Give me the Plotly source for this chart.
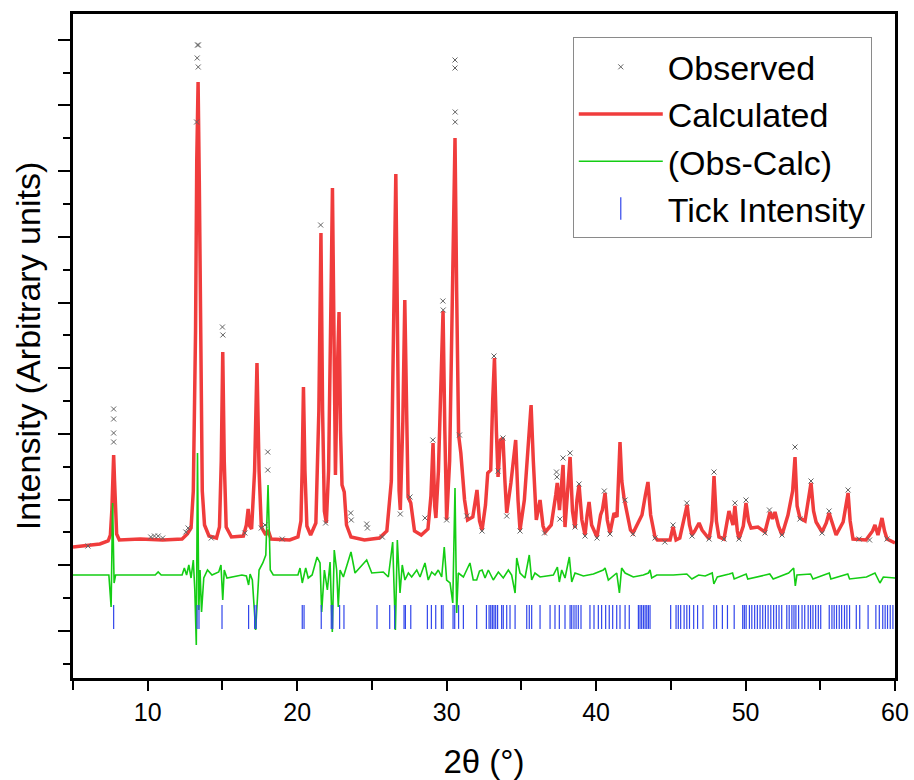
import plotly.graph_objects as go

# ---------------- data (2theta in degrees, intensity in arbitrary units) ----------------
calc_x = [5.0, 6.8, 7.35, 7.5, 7.6, 7.66, 7.72, 7.78, 7.84, 7.92, 8.1, 9.5, 11.0, 12.3, 12.65, 12.9, 13.05, 13.2, 13.28, 13.37, 13.45, 13.53, 13.65, 13.8, 14.1,
          14.6, 14.8, 14.92, 15.02, 15.12, 15.25, 15.6, 16.4, 16.6, 16.72, 16.82, 16.95, 17.15, 17.31, 17.45, 17.6, 17.9, 18.05, 18.25, 19.5,
          20.05, 20.25, 20.33, 20.42, 20.52, 20.65, 20.9, 21.25, 21.45, 21.59, 21.7, 21.82, 21.95, 22.1, 22.26, 22.36, 22.46, 22.56, 22.67, 22.8,
          22.9, 23.0, 23.15, 23.3, 23.6, 24.5, 25.5, 26.0, 26.3, 26.48, 26.6, 26.7, 26.82, 26.9, 27.07, 27.2, 27.32, 27.42, 27.6, 27.85,
          28.3, 28.75, 28.95, 29.09, 29.2, 29.28, 29.45, 29.62, 29.76, 29.88, 30.0, 30.2, 30.43, 30.56, 30.67, 30.8, 30.95, 31.05, 31.2, 31.4,
          31.75, 32.03, 32.2, 32.37, 32.6, 32.75, 32.95, 33.08, 33.2, 33.33, 33.44, 33.6, 33.77, 33.9, 34.02, 34.3, 34.62, 34.78, 34.91, 35.2,
          35.45, 35.65, 35.8, 36.0, 36.25, 36.45, 36.6, 37.0, 37.3, 37.4, 37.55, 37.79, 37.92, 38.1, 38.26, 38.42, 38.59, 38.72, 38.86, 39.05,
          39.26, 39.4, 39.53, 39.7, 40.06, 40.3, 40.42, 40.6, 40.75, 40.93, 41.1, 41.2, 41.4, 41.5, 41.6, 41.72, 41.87, 42.07, 42.3, 42.47,
          42.8, 43.07, 43.3, 43.47, 43.65, 43.94, 44.1, 44.95, 45.15, 45.35, 45.6, 45.9, 46.09, 46.25, 46.42, 46.6, 46.89, 47.09, 47.56, 47.75,
          47.89, 48.05, 48.22, 48.56, 48.89, 49.16, 49.29, 49.45, 49.56, 49.85, 50.03, 50.2, 50.37, 50.83, 51.3, 51.64, 51.8, 51.97, 52.2, 52.44,
          52.84, 53.15, 53.31, 53.45, 53.64, 53.98, 54.2, 54.38, 54.55, 54.72, 55.12, 55.4, 55.59, 55.8, 56.06, 56.53, 56.86, 57.0, 57.19, 58.06,
          58.5, 58.66, 58.86, 59.13, 59.3, 59.47, 60.0]
calc_y = [84, 87, 90, 96, 121, 150, 176, 150, 118, 97, 91, 92, 91, 92, 97, 103, 140, 300, 470, 549, 450, 300, 140, 106, 95,
          93, 104, 170, 279, 170, 104, 94, 95, 106, 122, 105, 102, 160, 268, 160, 104, 96, 101, 92, 91,
          94, 110, 160, 244, 160, 105, 96, 108, 220, 398, 220, 120, 108, 160, 330, 443, 300, 156, 250, 319,
          200, 146, 139, 106, 94, 91, 93, 100, 150, 330, 457, 320, 140, 121, 210, 331, 190, 134, 128, 100,
          96, 102, 135, 188, 125, 113, 160, 260, 320, 200, 111, 170, 400, 493, 340, 196, 178, 160, 131, 111,
          114, 141, 110, 101, 126, 158, 161, 230, 273, 200, 154, 191, 193, 150, 118, 148, 191, 130, 101, 131,
          190, 226, 170, 111, 131, 105, 99, 106, 136, 148, 121, 166, 104, 140, 174, 120, 103, 131, 146, 111,
          96, 116, 129, 106, 94, 116, 121, 138, 111, 98, 114, 118, 114, 150, 189, 150, 133, 118, 101, 98,
          109, 116, 136, 149, 116, 94, 91, 91, 104, 91, 93, 111, 126, 106, 96, 100, 108, 101, 92, 110,
          155, 110, 94, 92, 120, 106, 125, 100, 92, 105, 128, 110, 103, 104, 99, 119, 112, 119, 105, 96,
          116, 140, 174, 125, 113, 110, 130, 148, 120, 109, 99, 108, 118, 108, 96, 109, 138, 110, 92, 91,
          100, 106, 96, 113, 100, 92, 88]

obs_x = [7.72, 7.72, 7.72, 7.72, 13.33, 13.39, 13.31, 13.38, 13.27, 15.0, 15.03, 18.03, 18.03, 21.57, 29.08, 29.75, 29.77,
         30.56, 30.56, 30.57, 30.57, 30.86, 33.17, 33.77, 37.35, 37.38, 37.79, 38.26, 38.86, 40.55, 41.94, 45.15, 46.07,
         47.89, 49.29, 50.03, 51.6, 53.31, 54.38, 55.59, 56.86,
         6.0, 10.2, 10.45, 10.7, 11.0, 12.55, 12.7, 14.25, 16.5, 17.6, 17.85, 19.0, 21.9, 23.58, 23.62, 24.65, 24.7, 25.7,
         26.9, 27.55, 28.55, 30.0, 31.35, 32.37, 33.44, 34.02, 34.91, 36.55, 37.58, 38.59, 39.26, 40.06, 40.93, 42.47,
         43.94, 44.6, 46.42, 47.56, 48.56, 49.56, 51.3, 52.44, 53.64, 55.12, 57.6, 58.3, 59.47]
obs_y = [222, 212, 198, 189, 586, 586, 573, 564, 509, 304, 296, 179, 161, 406, 191, 330, 321,
         571, 563, 519, 509, 196, 275, 193, 159, 154, 173, 178, 147, 140, 131, 106, 128,
         159, 128, 131, 121, 184, 150, 120, 141,
         85, 94, 95, 95, 93, 99, 103, 93, 98, 103, 106, 92, 108, 118, 111, 107, 103, 94,
         117, 134, 113, 111, 115, 100, 160, 115, 100, 98, 112, 104, 95, 93, 97, 97,
         93, 89, 95, 92, 92, 92, 98, 96, 112, 98, 92, 91, 92]

diff_x = [5.0, 7.4, 7.55, 7.65, 7.75, 7.85, 10.5, 10.7, 10.9, 12.3, 12.45, 12.6, 12.75, 12.9, 13.05, 13.15, 13.25, 13.33, 13.42,
          13.5, 13.6, 13.75, 14.0, 14.3, 14.75, 14.9, 15.02, 15.12, 15.3, 16.3, 16.6, 16.75, 16.85, 17.0, 17.22, 17.32, 17.45,
          17.7, 17.9, 18.05, 18.2, 18.4, 20.05, 20.19, 20.34, 20.57, 20.74, 21.0, 21.33, 21.53, 21.64, 21.82, 22.02, 22.2,
          22.35, 22.48, 22.64, 22.75, 22.87, 23.09, 23.6, 23.87, 24.65, 24.99, 25.76, 26.1, 26.39, 26.57, 26.7, 26.88, 27.03,
          27.21, 27.44, 27.66, 28.0, 28.22, 28.55, 28.77, 29.0, 29.22, 29.44, 29.67, 29.84, 30.0, 30.23, 30.41, 30.56, 30.67,
          30.78, 31.12, 31.56, 31.78, 32.01, 32.2, 32.37, 32.57, 32.79, 33.12, 33.46, 33.79, 34.13, 34.35, 34.58, 34.69, 34.91,
          35.24, 35.53, 35.69, 35.91, 36.25, 37.14, 37.41, 37.54, 37.7, 37.92, 38.21, 38.37, 38.59, 39.15, 39.82, 40.48,
          40.6, 40.82, 41.38, 41.56, 41.71, 41.94, 42.49, 43.16, 43.5, 43.61, 43.72, 44.06, 45.17, 46.07, 46.41, 46.86,
          47.3, 47.77, 47.88, 48.11, 48.91, 49.13, 49.24, 50.04, 50.15, 50.84, 51.62, 51.85, 52.88, 53.22, 53.33, 53.44,
          54.35, 54.51, 55.6, 55.71, 56.84, 56.96, 58.09, 58.66, 58.99, 59.22, 60.0]
diff_y = [56, 56, 24, 128, 48, 56, 56, 59, 56, 56, 63, 56, 66, 53, 71, 41, -14, 178, 21,
          61, 19, 53, 61, 56, 59, 66, 31, 61, 53, 56, 55, 46, 57, 51, 1, 31, 61,
          68, 76, 146, 61, 56, 56, 63, 48, 63, 53, 56, 74, 68, 19, 61, 41, 69,
          -1, 81, 61, 24, 61, 54, 79, 58, 71, 58, 59, 54, 89, 1, 91, 38, 66,
          51, 58, 54, 61, 54, 68, 51, 59, 56, 61, 54, 84, 51, 48, 28, 143, 18,
          58, 54, 68, 51, 51, 60, 61, 53, 61, 51, 59, 53, 61, 56, 38, 73, 58,
          53, 76, 51, 58, 54, 56, 64, 49, 61, 53, 74, 49, 58, 55, 57, 61,
          63, 51, 58, 38, 63, 58, 54, 56, 58, 61, 53, 56, 56, 57, 52, 56,
          55, 58, 47, 54, 57, 58, 52, 57, 52, 54, 57, 52, 58, 63, 45, 56,
          57, 52, 58, 52, 57, 52, 54, 58, 48, 54, 53]

reflections = [7.72, 13.3, 13.43, 14.97, 16.75, 17.15, 17.26, 20.34, 20.46, 21.61, 22.28, 22.38, 22.84, 23.13, 25.34,
               26.19, 26.52, 27.15, 27.24, 27.6, 28.71, 28.98, 29.27, 29.65, 29.76, 30.43, 30.54, 30.8, 31.12, 32.01,
               32.66, 32.84, 32.95, 33.06, 33.17, 33.28, 33.41, 33.68, 33.79, 34.02, 34.24, 34.58, 35.36, 35.53, 35.69,
               36.25, 36.92, 37.25, 37.54, 37.92, 38.26, 38.37, 38.52, 38.66, 38.81, 38.99, 39.59, 39.86, 40.15, 40.37,
               40.64, 40.88, 41.11, 41.38, 41.6, 41.94, 42.22, 42.83, 42.94, 43.05, 43.17, 43.28, 43.39, 43.5, 43.61,
               44.99, 45.35, 45.5, 45.66, 45.89, 46.07, 46.25, 46.53, 46.79, 47.15, 47.88, 48.06, 48.45, 48.79, 49.24,
               49.81, 49.92, 50.04, 50.26, 50.42, 50.61, 50.79, 50.97, 51.15, 51.33, 51.51, 51.69, 51.88, 52.06, 52.24,
               52.42, 52.76, 52.92, 53.1, 53.24, 53.37, 53.55, 53.78, 53.96, 54.19, 54.35, 54.51, 54.69, 54.87, 55.03,
               55.6, 55.78, 55.93, 56.09, 56.27, 56.43, 56.62, 56.78, 56.96, 57.41, 57.64, 58.2, 58.72, 58.95, 59.18,
               59.34, 59.5, 59.68, 59.86]
reflection_level = 14

series_names = ["Observed", "Calculated", "(Obs-Calc)", "Tick Intensity"]

FONT = "Liberation Sans, Arial, sans-serif"

fig = go.Figure()
fig.add_trace(go.Scatter(x=calc_x, y=calc_y, mode="lines", name=series_names[1],
                         line=dict(color="rgb(240,60,60)", width=3.5), legendrank=2))
fig.add_trace(go.Scatter(x=diff_x, y=diff_y, mode="lines", name=series_names[2],
                         line=dict(color="rgb(20,205,20)", width=1.6), legendrank=3))
fig.add_trace(go.Scatter(x=reflections, y=[reflection_level] * len(reflections), mode="markers", name=series_names[3],
                         marker=dict(symbol="line-ns", size=17, line=dict(width=1.2, color="rgb(50,70,235)")),
                         legendrank=4))
fig.add_trace(go.Scatter(x=obs_x, y=obs_y, mode="markers", name=series_names[0],
                         marker=dict(symbol="x-thin", size=5, color="rgb(100,100,100)",
                                     line=dict(width=1, color="rgb(100,100,100)")),
                         legendrank=1))

fig.update_layout(
    width=914, height=780,
    margin=dict(l=73, r=19, t=14, b=102, autoexpand=False),
    paper_bgcolor="white", plot_bgcolor="white",
    font=dict(family=FONT, color="black"),
    showlegend=True,
    legend=dict(x=0.608, y=0.965, xanchor="left", yanchor="top",
                bgcolor="white", bordercolor="#8a8a8a", borderwidth=1,
                font=dict(size=34, family=FONT), itemwidth=84,
                traceorder="normal"),
    xaxis=dict(range=[5, 60], tick0=0, dtick=10, ticks="outside", ticklen=10, tickwidth=2,
               tickcolor="black", showline=True, linecolor="black", linewidth=2.5, mirror=True,
               showgrid=False, zeroline=False, automargin=False,
               tickfont=dict(size=25, family=FONT),
               minor=dict(dtick=5, tick0=0, ticks="outside", ticklen=9, tickwidth=2, tickcolor="black", showgrid=False),
               title=dict(text="2θ (°)", font=dict(size=33, family=FONT), standoff=28)),
    yaxis=dict(range=[-47, 617], tick0=0, dtick=65.7, ticks="outside", ticklen=12, tickwidth=2,
               tickcolor="black", showline=True, linecolor="black", linewidth=2.5, mirror=True,
               showgrid=False, zeroline=False, showticklabels=False, automargin=False,
               minor=dict(dtick=32.85, tick0=0, ticks="outside", ticklen=7, tickwidth=2, tickcolor="black", showgrid=False),
               title=dict(text="Intensity (Arbitrary units)", font=dict(size=34, family=FONT), standoff=8)),
)

fig.write_html("out.html")
